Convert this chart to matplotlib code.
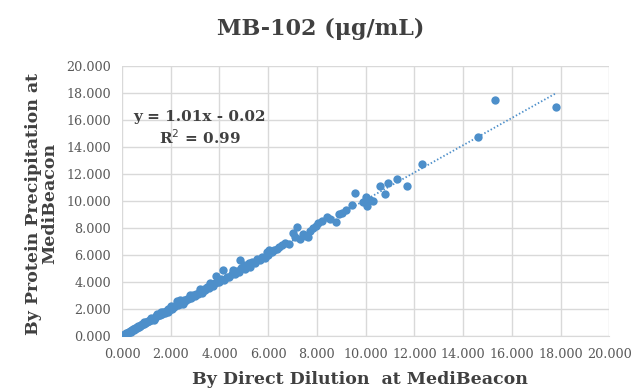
import matplotlib
matplotlib.use("Agg")
import matplotlib.pyplot as plt
import numpy as np

# MB-102 concentration (ug/mL): direct dilution vs protein precipitation
direct = [0.02, 0.05, 0.08, 0.10, 0.12, 0.15, 0.18, 0.20, 0.22, 0.25, 0.28, 0.30, 0.33, 0.35,
          0.38, 0.40, 0.43, 0.45, 0.48, 0.50, 0.53, 0.55, 0.58, 0.60, 0.63, 0.66, 0.70, 0.72,
          0.75, 0.78, 0.80, 0.84, 0.87, 0.90, 0.93, 0.96, 1.00,
          1.03, 1.06, 1.10, 1.14, 1.18, 1.22, 1.26, 1.30, 1.34, 1.38, 1.42, 1.45, 1.50, 1.55,
          1.60, 1.65, 1.70, 1.75, 1.80, 1.85, 1.90, 1.95, 2.00,
          2.05, 2.10, 2.15, 2.20, 2.26, 2.30, 2.35, 2.40, 2.45, 2.50, 2.55, 2.60, 2.66, 2.72,
          2.78, 2.85, 2.92, 3.00,
          3.05, 3.12, 3.20, 3.28, 3.35, 3.42, 3.50, 3.58, 3.65, 3.72, 3.80, 3.85, 3.90, 4.00,
          4.08, 4.15, 4.20, 4.30, 4.40, 4.50, 4.55, 4.62, 4.72, 4.80, 4.85, 4.90, 5.00, 5.05,
          5.10, 5.20, 5.26, 5.35, 5.45, 5.55, 5.65, 5.75, 5.85, 5.95, 6.00, 6.05,
          6.15, 6.25, 6.35, 6.45, 6.55, 6.70, 6.85, 7.00,
          7.10, 7.20, 7.30, 7.45, 7.55, 7.65, 7.70, 7.85, 7.95,
          8.05, 8.20, 8.40, 8.55, 8.80, 8.90, 9.05, 9.20,
          9.45, 9.57, 9.90, 10.00, 10.05, 10.20, 10.30, 10.60, 10.80, 10.90, 11.30, 11.70,
          12.30, 14.60, 15.30, 17.80,
          0.90, 1.20, 1.30, 1.60, 1.90, 2.00, 2.40, 2.50, 2.80, 3.20, 3.30, 3.60]
precip = [0.03, 0.04, 0.10, 0.08, 0.14, 0.13, 0.20, 0.17, 0.25, 0.23, 0.30, 0.27, 0.36, 0.32,
          0.40, 0.43, 0.41, 0.48, 0.46, 0.53, 0.50, 0.58, 0.57, 0.63, 0.60, 0.70, 0.68, 0.76,
          0.74, 0.82, 0.79, 0.86, 0.90, 0.88, 0.97, 0.95, 1.03,
          1.00, 1.12, 1.08, 1.18, 1.15, 1.28, 1.24, 1.36, 1.30, 1.45, 1.62, 1.48, 1.55, 1.52,
          1.66, 1.62, 1.76, 1.72, 1.88, 1.82, 1.98, 1.93, 2.08,
          2.02, 2.18, 2.12, 2.30, 2.62, 2.26, 2.45, 2.38, 2.55, 2.48, 2.68, 2.58, 2.75, 2.70,
          2.90, 2.82, 3.00, 2.96,
          3.12, 3.10, 3.35, 3.25, 3.50, 3.40, 3.60, 3.55, 3.80, 3.68, 3.90, 4.45, 4.00, 3.98,
          4.20, 4.90, 4.15, 4.40, 4.35, 4.60, 4.90, 4.55, 4.80, 4.70, 5.60, 5.00, 5.25, 4.95,
          5.20, 5.40, 5.10, 5.50, 5.40, 5.70, 5.60, 5.85, 5.80, 6.20, 6.00, 6.40,
          6.25, 6.35, 6.45, 6.55, 6.75, 6.90, 6.80, 7.60,
          7.30, 8.10, 7.20, 7.55, 7.40, 7.30, 7.80, 8.00, 8.15,
          8.40, 8.50, 8.80, 8.65, 8.45, 9.00, 9.10, 9.30,
          9.70, 10.60, 9.90, 10.30, 9.60, 10.10, 10.00, 11.10, 10.50, 11.30, 11.60, 11.10,
          12.75, 14.70, 17.50, 16.95,
          1.05, 1.35, 1.15, 1.80, 1.75, 2.25, 2.65, 2.35, 3.05, 3.50, 3.15, 3.95]

slope = 1.01
intercept = -0.02
ticks = [0, 2, 4, 6, 8, 10, 12, 14, 16, 18, 20]

blue = '#4d8fca'
text_color = '#404040'
serif = 'DejaVu Serif'

fig = plt.figure(figsize=(6.32, 3.92), dpi=100)
ax = fig.add_axes([0.193, 0.143, 0.771, 0.689])

ax.scatter(direct, precip, s=36, color=blue, zorder=3, linewidths=0)
xl = np.array([0, max(direct)])
ax.plot(xl, slope*xl + intercept, linestyle=(0, (0.8, 1.2)), color=blue, linewidth=1.3, zorder=2)

ax.set_xlim(0, 20)
ax.set_ylim(0, 20)
ax.set_xticks(ticks)
ax.set_yticks(ticks)
ax.set_xticklabels([f"{t:.3f}" for t in ticks], family=serif, fontsize=9.2, color='#595959')
ax.set_yticklabels([f"{t:.3f}" for t in ticks], family=serif, fontsize=9.2, color='#595959')
ax.tick_params(axis='x', length=0, pad=9)
ax.tick_params(axis='y', length=0, pad=8)
ax.grid(True, color='#d9d9d9', linewidth=1)
ax.set_axisbelow(True)
for s in ['top', 'right', 'left']:
    ax.spines[s].set_visible(False)
ax.spines['bottom'].set_color('#d9d9d9')

ax.text(3.2, 16.2, "y = 1.01x - 0.02", ha='center', va='center', family=serif,
        fontsize=11, fontweight='bold', color=text_color)
ax.text(3.2, 14.7, "R$^2$ = 0.99", ha='center', va='center', family=serif,
        fontsize=11, fontweight='bold', color=text_color)

fig.text(0.507, 0.925, "MB-102 (μg/mL)", ha='center', va='center', family=serif,
         fontsize=16, fontweight='bold', color=text_color)
fig.text(0.57, 0.033, "By Direct Dilution  at MediBeacon", ha='center', va='center',
         family=serif, fontsize=12.5, fontweight='bold', color=text_color)
fig.text(0.066, 0.48, "By Protein Precipitation at\nMediBeacon", ha='center', va='center',
         rotation=90, family=serif, fontsize=12.5, fontweight='bold', color=text_color,
         linespacing=1.0)

plt.savefig("out.png", dpi=100)
